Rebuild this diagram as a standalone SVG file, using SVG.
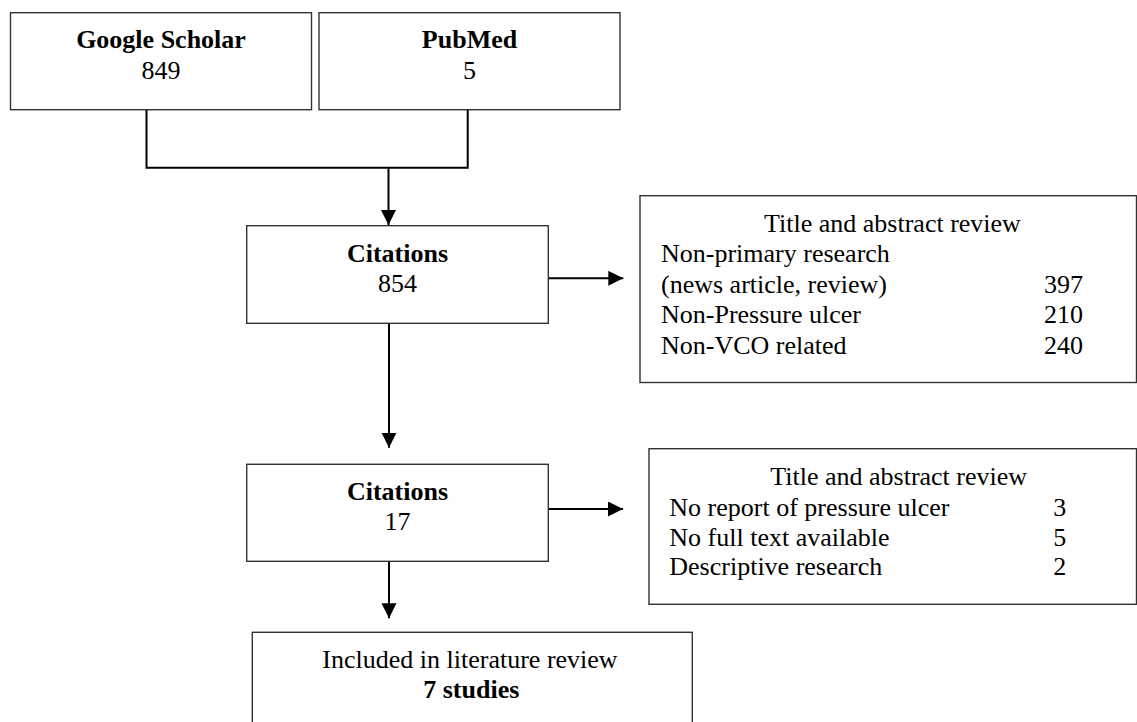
<svg xmlns="http://www.w3.org/2000/svg" width="1137" height="722" viewBox="0 0 1137 722">
<style>
.box{fill:#fff;stroke:#333;stroke-width:1.4}
.t{font-family:'Liberation Serif',Tinos,'Times New Roman',Times,serif;font-size:26px;fill:#000}
.b{font-weight:bold}
.m{text-anchor:middle}
.c{fill:none;stroke:#000;stroke-width:2}
</style>
<defs>
<marker id="ah" markerUnits="userSpaceOnUse" markerWidth="16" markerHeight="16" refX="15" refY="7.5" orient="auto">
<path d="M0,0 L15,7.5 L0,15 Z" fill="#000"/>
</marker>
</defs>
<rect width="1137" height="722" fill="#fff"/>
<g id="connectors">
<path class="c" d="M146.5,109.7 V167.7 H467.7 V109.7"/>
<path class="c" d="M388.5,167.7 V225" marker-end="url(#ah)"/>
<path class="c" d="M389,323.3 V447.7" marker-end="url(#ah)"/>
<path class="c" d="M389,561.3 V618.3" marker-end="url(#ah)"/>
<path class="c" d="M548.3,278.3 H623.3" marker-end="url(#ah)"/>
<path class="c" d="M548.3,509 H623" marker-end="url(#ah)"/>
</g>
<g font-family="Liberation Serif, Times New Roman, serif">
<g id="google-scholar">
<rect class="box" x="10.5" y="12.7" width="301" height="97"/>
<text class="t b m" x="161" y="48.3">Google Scholar</text>
<text class="t m" x="161" y="79">849</text>
</g>
<g id="pubmed">
<rect class="box" x="319" y="12.7" width="301" height="97"/>
<text class="t b m" x="469.5" y="48.3">PubMed</text>
<text class="t m" x="469.5" y="79">5</text>
</g>
<g id="citations-854">
<rect class="box" x="246.7" y="225.7" width="301.6" height="97.6"/>
<text class="t b m" x="397.5" y="261.7">Citations</text>
<text class="t m" x="397.5" y="292.3">854</text>
</g>
<g id="exclusion-1">
<rect class="box" x="640" y="195.7" width="496.5" height="186.8"/>
<text class="t m" x="892.5" y="231.5">Title and abstract review</text>
<text class="t" x="661" y="262">Non-primary research</text>
<text class="t" x="661" y="292.5">(news article, review)</text>
<text class="t" x="1044" y="292.5">397</text>
<text class="t" x="661" y="323">Non-Pressure ulcer</text>
<text class="t" x="1044" y="323">210</text>
<text class="t" x="661" y="353.5">Non-VCO related</text>
<text class="t" x="1044" y="353.5">240</text>
</g>
<g id="citations-17">
<rect class="box" x="246.7" y="464.3" width="301.6" height="97"/>
<text class="t b m" x="397.5" y="500">Citations</text>
<text class="t m" x="397.5" y="530">17</text>
</g>
<g id="exclusion-2">
<rect class="box" x="649" y="448.7" width="487.5" height="155.6"/>
<text class="t m" x="898.7" y="485">Title and abstract review</text>
<text class="t" x="669.3" y="515.5">No report of pressure ulcer</text>
<text class="t" x="1053.3" y="515.5">3</text>
<text class="t" x="669.3" y="545.5">No full text available</text>
<text class="t" x="1053.3" y="545.5">5</text>
<text class="t" x="669.3" y="575">Descriptive research</text>
<text class="t" x="1053.3" y="575">2</text>
</g>
<g id="included">
<rect class="box" x="252.3" y="632.3" width="440" height="100"/>
<text class="t m" x="470" y="668.3">Included in literature review</text>
<text class="t b m" x="471.3" y="698.3">7 studies</text>
</g>
</g>
</svg>
